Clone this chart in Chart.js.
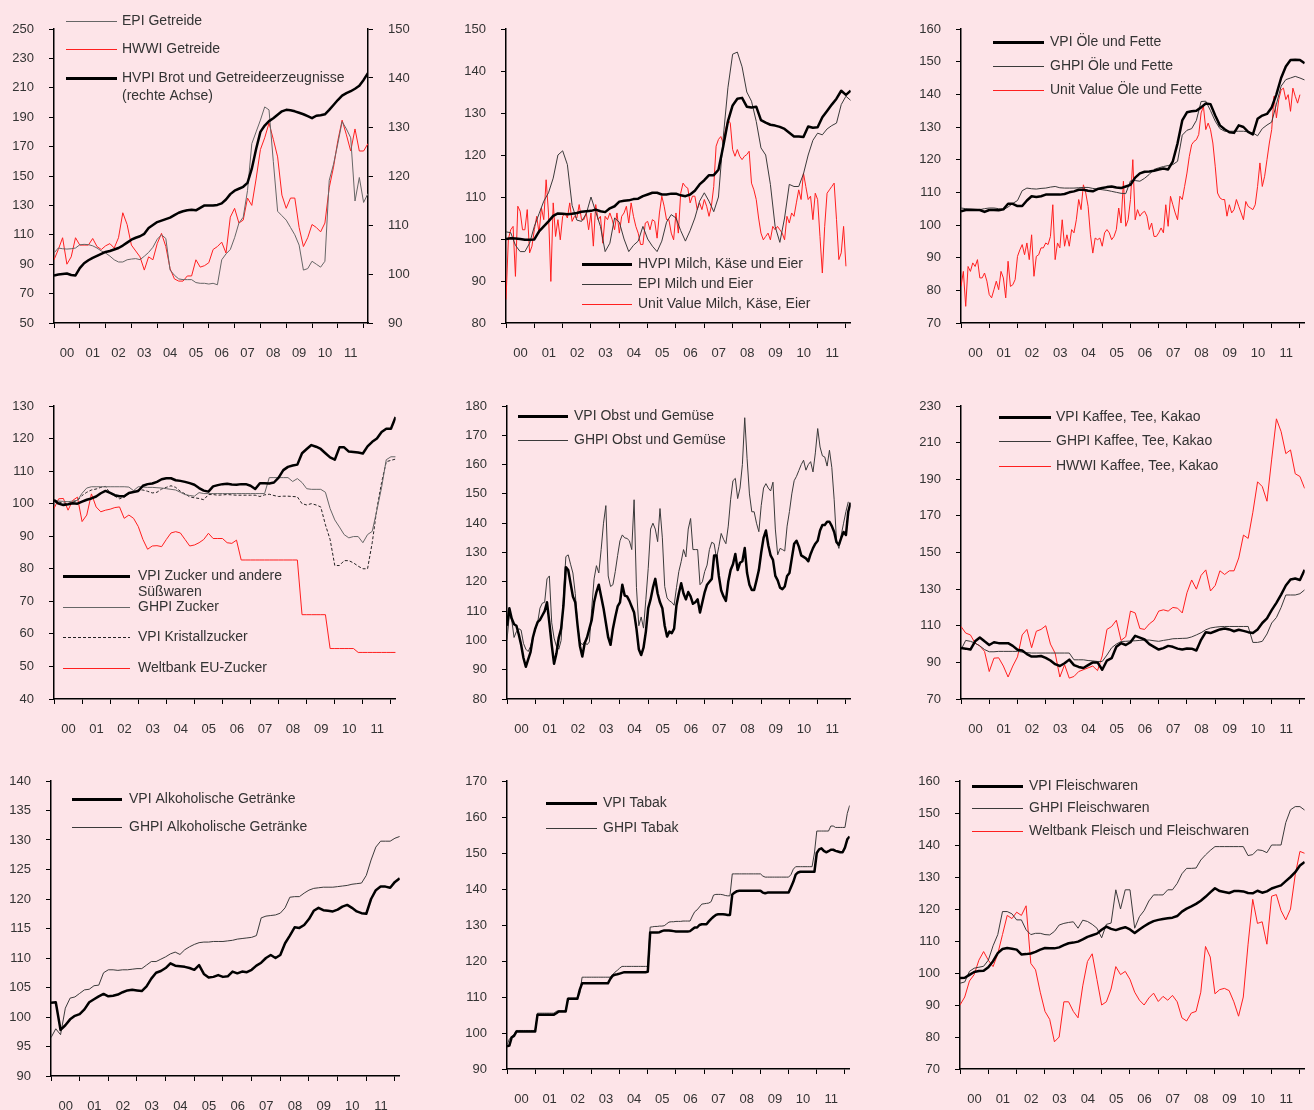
<!DOCTYPE html>
<html>
<head>
<meta charset="utf-8">
<script src="https://cdn.jsdelivr.net/npm/chart.js@4.4.1/dist/chart.umd.min.js"></script>
<style>
  html, body { margin: 0; padding: 0; background: #fde4e8; width: 1314px; height: 1110px; overflow: hidden; }
  canvas { position: absolute; }
</style>
</head>
<body>
<script>
// --- Time axis: year ticks and labels ---
const YEAR_TICKS = [0, 1, 2, 3, 4, 5, 6, 7, 8, 9, 10, 11, 12];
const YEAR_LABELS = ['00', '01', '02', '03', '04', '05', '06', '07', '08', '09', '10', '11'];
const X_MAX = 12.17;

// --- Panel 1: Getreide (bimonthly) ---
const p1LeftTicks = [50, 70, 90, 110, 130, 150, 170, 190, 210, 230, 250];
const p1RightTicks = [90, 100, 110, 120, 130, 140, 150];
const p1Epi = [97.6,101,100.5,100.3,100.5,101,103.2,103.5,103.3,102.5, 101,99,97.6,95.5,93,91.5,91.5,93,93.5,93.8, 93.1,95.4,98,101.5,107,110,107.5,86,82.5,80, 79.5,79.5,79.5,77.5,77,77,76.5,77,76,93, 97,100,108,118,122,140,172,180,188,197, 195,160,126,123,120,115,110,103,86,87, 92,90,88,92,147,158,172,187,182,176, 133,149,132,138];
const p1Hwwi = [93,100,108,90,95,108,103,103,103,107.5, 102,100,102.5,104,101,108,125,117,103,99, 95,86,95,93,104,111,102,87,80,78.5, 78.5,82,82,93,88,89,91,100,102,105, 97.6,122,128,118,120,135,130,148,168,176, 186,175,163,137,128,135,135,115,102,108, 117,115,112,118,142,156,174,188,178,167, 182,167,167,172];
const p1Hvpi = [99.7,99.9,100.0,100.1,99.8,99.7,101.2,102.2,102.8,103.3, 103.7,104.1,104.5,104.7,105.0,105.3,105.8,106.4,107.0,107.4, 107.7,108.2,109.4,110.0,110.6,110.9,111.2,111.5,112.0,112.5, 112.8,113.0,113.1,113.0,113.5,114.0,114.0,114.0,114.1,114.4, 115.2,116.3,117.0,117.4,117.8,118.6,121.5,125.5,129.0,130.3, 131.2,131.8,132.5,133.2,133.5,133.4,133.2,132.9,132.6,132.2, 131.8,132.3,132.4,132.6,133.5,134.5,135.5,136.4,136.9,137.3, 137.8,138.4,139.6,141.0];

// --- Panel 2: Milch (bimonthly, unit value monthly) ---
const p2Ticks = [80, 90, 100, 110, 120, 130, 140, 150];
const p2Hvpi = [100.0,100.2,100.1,100.0,99.8,99.8,99.9,101.8,103,104.2, 105.5,106.1,106,105.9,106,106.2,106.5,106.6,106.7,107, 106.6,106.4,107.3,107.8,108.9,109.1,109.2,109.5,109.6,110.2, 110.6,111,111,110.6,110.6,110.8,110.8,110.4,110.2,110.6, 111.5,113,114,115.2,115.2,116.5,122,128,131.8,133.4, 133.6,131.5,131.3,131.5,128.3,127.7,127.2,127,126.7,126.2, 125.3,124.4,124.4,124.3,126.8,126.5,126.6,129,130.5,132, 133.4,135.3,134.3,135.3];
const p2Epi = [101.7,101.5,98.5,97,97,99,103,106,109,111, 114.5,120,121,117.7,108,104.5,104.2,106,110,106.5, 103,97,99,105,104,100,97,98.5,99.5,103, 100,98.3,97,99.5,104,105.8,105,102,99.5,102, 105,109,111,109,106.5,110,124,136,144,144.5, 141,135,132.8,128,121.7,120,113,103,99.2,105, 113,112.5,112.5,115.5,120,123.5,125.2,124.8,126.2,127, 127.6,132,134,133];
const p2Unit = [85.6,100,102.2,103,91.1,107.8,106.6,102.2,102.2,107, 96.7,98.3,102.2,105.4,101.4,107.4,104.6,114.1,106.2,89.9, 108.6,100.6,104.6,99.8,105.4,106.2,105,108.6,104.2,105.4, 105,108.2,104.6,104.6,106.2,102.2,106.2,98.3,108.2,104.6, 105.4,99,105.4,104.6,106.2,104.6,102.2,106.2,101.4,105.4, 106.2,107.8,103.8,108.6,105.4,103,101.4,98.7,98.7,103.8, 104.2,102.2,104.6,104.2,100.2,106.2,110.2,107.8,104.6,104.6, 101.4,99.8,106.2,101.4,110.9,113.3,112.5,112.1,108.6,110.2, 110.2,107,108.6,107,109.4,107.8,105.4,107.8,112.5,122.1, 123.7,124.4,122.9,126,128.4,127.6,121.3,119.7,121.3,119.7, 118.9,119.7,120.1,120.9,113.3,111.7,109.4,105,101.4,99.8, 100.6,101.4,99.8,103,102.2,103,102.2,101.4,99.8,105.4, 103.8,106.2,105.4,108.6,111.7,109.4,115.7,112.5,109.4,110.2, 104.6,110.9,109.4,100.6,91.9,103,110.9,111.7,112.5,113.3, 104.6,95.1,96.7,103,93.5];

// --- Panel 3: Öle und Fette ---
const p3Ticks = [70, 80, 90, 100, 110, 120, 130, 140, 150, 160];
const p3Vpi = [104.2,104.6,104.7,104.6,104.6,104,104.6,104.6,104.5,104.8, 106.5,106.5,105.8,105.8,107.5,108.8,108.6,108.8,109.3,109.3, 109.3,109.3,109.5,110,110.3,110.8,110.8,110.5,110.3,111, 111.3,111.6,111.8,111.5,111.3,111.8,112.3,114.5,115.8,116.3, 116.4,116.6,117,117.3,117,119.5,125,132,134.5,134.8, 135,136,137.2,137,133.5,130.5,129.3,128.4,128.2,130.5, 130,128.5,127.7,132.5,133.5,134,136,140,145,148.5, 150.5,150.6,150.5,149.5];
const p3Ghpi = [105.2,105,104.8,104.8,104.7,105,105.2,105.2,105,104.7, 105.5,106.6,107.5,110.5,111.3,111.1,111,111.2,111.3,111.6, 111.8,111.4,111.3,111.3,111.3,111.4,111.5,111.5,111.2,111, 110.8,110.6,110.3,110,109.7,109.6,113.5,113.6,113.4,114.3, 115.5,117,117.5,117.9,118.2,118.5,119.5,127.5,129,129.5, 132,137.8,137.9,135,131.8,129.5,128.7,128.7,128.7,128.7, 128.7,128.5,128.2,127.3,129.5,130.6,131.5,137,142.5,144.5, 145,145.5,145,144.4];
const p3Unit = [81.2,85.8,75.1,87.3,85.8,88.4,87.3,89.4,83.8,83.8, 85.3,82.8,78.7,77.7,80.2,82.8,80.2,85.8,83.8,77.7, 88.9,81.2,81.7,83.3,90.4,92.4,94,90.9,94.5,89.4, 97,84.3,90.4,90.9,93,93,94.5,94,96.5,106.2, 89.4,94.5,93,101.6,93.5,97,93.5,98.6,97.6,101.6, 107.8,104.7,112.3,109.8,105.7,97,91.4,96,95.5,96, 93.5,97.6,98.6,97.6,95.5,96.5,98.6,105.2,100.6,113.4, 99.6,101.6,107.8,120,101.6,104.7,102.7,103.7,104.2,102.7, 98.6,100.6,96.5,96.5,97.6,99.1,97.6,106.2,99.6,108.8, 106.2,103.7,101.6,108.8,107.8,111.8,115.9,121,124.6,125.6, 126.1,127.7,134.3,136.3,129.2,131.2,129.2,125.1,118,109.8, 108.3,107.8,107.8,102.7,106.2,103.7,104.7,107.8,105.7,103.7, 101.6,107.2,105.7,105.2,104.7,106.2,111.8,119,111.8,114.9, 120,125.1,129.2,139.4,132.8,138.4,141.4,141.9,138.4,139.9, 134.8,141.9,139.4,137.3,139.9];

// --- Panel 4: Zucker ---
const p4Ticks = [40, 50, 60, 70, 80, 90, 100, 110, 120, 130];
const p4Vpi = [101.1,100,99.6,99.8,100.1,100,100.6,101.2,101.6,102.2, 103.2,103.9,103.3,102.6,102.3,102.3,103.3,103.6,103.9,105.5, 106,106.2,106.7,107.5,107.8,107.8,107.2,107,106.7,106.3, 105.8,104.8,104,103.7,105.3,105.7,106,106.1,105.9,105.8, 106,106,105.5,104.5,106.3,106.3,106.2,106.5,108,110.3, 111.3,111.7,112,115.5,116.8,118,117.5,116.8,115.5,114.2, 113.5,117.3,117.3,116,115.9,115.7,115.4,117.6,119,120, 122,123,123,126.6];
const p4Ghpi = [101.1,100.8,100.7,100.6,100.8,101,103.2,104.8,105.2,105.2, 105.2,105.2,105.2,105.2,105.2,105.2,105.1,104,105.2,105.1, 105,105,104.9,104.8,104.6,104.4,104.2,103.5,102.8,102.5, 102.3,103.4,103.1,103.1,103.1,103.1,103.1,103.1,103.1,103.1, 103.1,103.1,103.1,103.1,103.1,103.1,108,108,108,108, 108,106.8,107.7,106.5,104.6,104.4,104.4,104.4,103.5,98.5, 95,92.8,90.5,89.5,89.9,89.9,88,90.5,91.5,98, 105,113.5,114.4,114.4];
const p4Kristall = [101.1,100.5,100.2,100,100.5,101,102.5,103.5,104.2,104.5, 105,105.3,103.2,102.3,101.5,102,103,103.8,104.2,104.2, 103.8,103.3,103.5,104.5,105,105.5,105,103.8,103,102.1, 101.8,101.6,101.2,102.8,102.8,102.6,102.7,102.8,102.7,102.6, 102.6,102.6,102.6,102.6,102.2,102.7,102.9,102.5,102.2,102.3, 102.3,102.2,102.1,100,99.6,100,99.6,99,93.5,89, 81,81,82.5,82.5,81.8,80.8,80,80,88,98.5, 106.5,112.9,113.3,113.7];
const p4Weltbank = [98.5,101.5,101.6,98,101,102,94.5,96.5,103,99, 97.5,98,98.3,98.8,99,95.5,96.5,95.5,93,89, 86,87,87.1,86.8,89,91,91.4,91,89,87, 87.3,88,89,90.9,89.3,89.3,89.3,88,87.8,88.8, 82.7,82.7,82.7,82.7,82.7,82.7,82.7,82.7,82.7,82.7, 82.7,82.7,82.7,65.9,65.9,65.9,65.9,65.9,65.9,55.5, 55.5,55.5,55.5,55.5,55.5,54.3,54.3,54.3,54.3,54.3, 54.3,54.3,54.3,54.3];

// --- Panel 5: Obst und Gemüse (monthly) ---
const p5Ticks = [80, 90, 100, 110, 120, 130, 140, 150, 160, 170, 180];
const p5Vpi = [105,111,107.5,105.5,105,102,98.5,94,91,93.5, 96,101,104,106.2,107,108.5,110,113,106,98.5, 92,95.5,101,104,112,125,124,119.5,115,113, 105,98,94.5,99,101,104,107,113,116.5,119, 115,111,106,101,98.5,104,108,111.6,113,119, 115.3,115,113.5,111.5,109.5,104,97,95,97.5,103, 111,114,118,121,116,113,111,105,101.3,103, 102.5,104,112,116,119.5,116,114,116.5,115,112.5, 113,114,109.5,113,116.5,119,120,121,129,129, 122,117,115,113.5,120,124,126,129.5,124,126.5, 127,131.5,123,119,117.2,117.2,120.5,124,130,135, 137.5,132.5,129,127.5,122,120.5,118,117.5,118.4,122, 123,128,133,134,132,129,128.5,128,127,129.5, 131.5,133,134,137.5,139.4,139.4,140.5,140.5,139,137, 133.5,132.6,135,137,136,144,147];
const p5Ghpi = [100.2,108.7,107,101,103,104,103.5,99,97,96.2, 98,101,103.5,106,111,112.7,113,121,122,106, 100.8,98,97,100,115,128.6,129.2,126,123,116, 105,99.5,98.5,99.6,98.5,99.5,111,121,125.5,123, 131,140,146,122,118.4,119,123.5,129,134,136, 135,134.8,134,131,148,118,105,108,104.2,114, 124.6,138,140,138,133.7,145,135,118.4,114.5,113.5, 113,112,118,123.5,126.9,131,128.5,138,141.6,131, 131,131,119,120,123.5,125.7,131,133.5,133,128, 132,136.5,134.5,133,139,148,154.5,155.3,148.4,152, 160,176,162,150,143.9,143.9,140,137.1,146,152, 153.5,152,151,154,138,129.2,131.4,131,130.5,139, 144,150,154.5,156,158,160,161.5,158.1,160,161, 157.5,164,172.3,166,163,162.6,159.5,164.9,159,148, 134,131.4,136,140,144,147.3];

// --- Panel 6: Kaffee, Tee, Kakao ---
const p6Ticks = [70, 90, 110, 130, 150, 170, 190, 210, 230];
const p6Vpi = [97.8,97.5,97,101.5,103.6,101.5,99.5,101,100.5,100.5, 100.5,99,96.9,96.5,94.5,93.2,93.2,93.5,92.5,91, 89,88,89.5,91.5,88.5,87.5,86.9,88.5,90,90, 86,91,92.3,98.5,100.5,99.5,101,104.5,103.5,102.5, 100,98.5,97,97.8,99,98.5,97.5,97,97.6,97.5, 96.5,102.3,106.5,106,107,108,108.5,108,107,107.8, 107.2,106.5,106,108,111.5,114,118.5,122.5,127,132, 135.3,135.8,135,140.5];
const p6Ghpi = [96.9,102,101.5,100.5,99,97,95.8,95.8,96,96, 96,96,96,95.6,95.3,95.1,95.1,95.1,95.1,95.1, 95.1,95.1,95.1,95.1,91.4,91.4,91.4,91,90.8,90.5, 90.5,94,98,100,101.4,101.5,101.7,101.8,102,102.2, 102.2,101.8,101.5,102,102.4,102.9,103,103.1,103.2,103.9, 105,106.2,107.8,108.8,109.2,109.5,109.6,109.6,109.6,109.6, 109.6,109.6,100.9,100.9,101.5,105.5,111.5,114.5,120,126.8, 126.8,126.8,127.5,129.6];
const p6Hwwi = [109.6,106,105,100.5,99,96,85,92.3,92.5,88, 82,88,93,105,108,98,107,108,110,100, 95,82,88.7,81.4,82.3,85,86,87,88,85.5, 93.5,108,109.6,113,102,104,118,117,108.5,108, 111,113,118,118.7,118,120,119.6,117,128,135, 130,137.5,140.5,129,132,140,138,140,140,147, 159.5,157.7,172,188.6,186,178,201,223,216,204, 206,193,191.5,185];

// --- Panel 7: Alkoholische Getränke ---
const p7Ticks = [90, 95, 100, 105, 110, 115, 120, 125, 130, 135, 140];
const p7Vpi = [102.4,102.5,97.8,98.6,99.6,100.2,100.5,101.3,102.5,103, 103.5,103.9,103.5,103.6,103.8,104.2,104.5,104.6,104.5,104.4, 105.2,106.5,107.5,107.8,108.3,109.1,108.7,108.6,108.5,108.3, 108,108.8,107.3,106.7,106.8,107.1,106.8,106.9,107.7,107.4, 107.7,107.6,108,108.7,109.2,110,110.5,110,110.5,112.5, 113.8,115.2,115.1,115.6,116.6,118,118.5,118.1,118,117.9, 118.2,118.7,119,118.5,117.9,117.6,117.5,120,121.5,122.1, 122.1,121.9,122.9,123.5];
const p7Ghpi = [96.5,98,97,101.5,103.2,103.4,104,104.6,104.7,105.3, 105.4,107.5,108,108,107.9,108,108,108.1,108.2,108.2, 108.8,109.4,109.4,109.8,110.2,110.7,111,110.6,111.4,111.9, 112.3,112.6,112.7,112.7,112.8,112.8,112.8,112.9,113,113.2, 113.3,113.4,113.5,113.8,116.8,117.1,117.2,117.3,117.6,118.5, 120.3,120.4,120.4,121,121.5,121.8,121.9,122,122,122, 122.1,122.2,122.3,122.5,122.6,122.7,124,126.6,128.8,129.8, 129.8,129.8,130.3,130.6];

// --- Panel 8: Tabak (monthly) ---
const p8Ticks = [90, 100, 110, 120, 130, 140, 150, 160, 170];
const p8Vpi = [96.3,96.5,98.8,99.2,100.4,100.4,100.4,100.4,100.4,100.4, 100.4,100.4,100.4,105.1,105.1,105.1,105.1,105.1,105.1,105.1, 105.1,105.5,106,106,106,106,109.5,109.5,109.5,109.5, 109.5,112,113.8,113.8,113.8,113.8,113.8,113.8,113.8,113.8, 113.8,113.8,113.8,113.8,115,115.9,116.2,116.3,116.5,116.7, 116.9,116.9,116.9,116.9,116.9,116.9,116.9,116.9,116.9,116.9, 117,127.9,127.9,127.9,127.9,128,128.3,128.5,128.5,128.5, 128.4,128.3,128.2,128.2,128.2,128.2,128.2,128.2,128.3,128.8, 129.3,129.3,130,130.2,130.2,130.2,131,131.7,132.3,132.8, 133,133,133,132.9,132.8,132.8,138.5,139,139.4,139.5, 139.5,139.5,139.5,139.5,139.5,139.5,139.5,139.5,139.5,139, 138.8,139,139,139,139,139,139,139,139,139, 139,140.5,142,144,144.6,144.8,144.8,144.8,144.8,144.8, 144.8,144.8,150,151,151.3,150.6,150.2,150.5,150.9,150.9, 150.6,150.4,150.2,150.2,151.5,153.8,154.6];
const p8Ghpi = [96.7,98.3,99,99.6,100.7,100.7,100.7,100.7,100.7,100.7, 100.7,100.7,100.7,105.5,105.5,105.5,105.5,105.5,105.5,105.5, 105.5,106,106.2,106.2,106.2,106.2,109.7,109.7,109.7,109.7, 109.7,111,115.5,115.5,115.5,115.5,115.5,115.5,115.5,115.5, 115.5,115.5,115.5,115.5,115.5,116.2,116.9,117.4,118,118.5, 118.5,118.5,118.5,118.5,118.5,118.5,118.5,118.5,118.5,118.5, 118.5,129.4,129.5,129.6,129.6,129.7,129.7,129.8,130.3,130.8, 130.9,130.9,131,131,131,131.1,131.1,131.1,131.1,132.5, 133.7,134.2,135,135.8,135.9,136,136.1,136.5,138.3,138.5, 138.5,138.5,138.4,138.2,138.1,138.1,144.2,144.2,144.2,144.2, 144.2,144.2,144.2,144.2,144.2,144.2,144.2,144.2,144.2,143.6, 143.3,143.3,143.3,143.3,143.3,143.3,143.3,143.3,143.3,143.3, 143.3,144,145.5,146.2,146.2,146.2,146.2,146.2,146.2,146.2, 146.2,150,156.1,156.1,156.1,156.1,156.1,156.1,157.5,157.5, 157.1,157.1,157.1,157.1,157.1,161,163.2];

// --- Panel 9: Fleischwaren ---
const p9Ticks = [70, 80, 90, 100, 110, 120, 130, 140, 150, 160];
const p9Vpi = [98.4,98.5,99.4,100.3,100.6,100.7,101.8,103.7,106.2,107.5, 107.8,107.6,107.3,105.8,105.9,106.1,106.6,107.3,107.8,107.7, 107.7,108,108.7,109.3,109.5,109.8,110.5,111.3,111.8,112.3, 113.5,114.5,113.8,113.4,113.9,114.3,113.6,112.5,113.6,114.6, 115.5,116.2,116.6,116.9,117.1,117.3,117.8,119.2,120.1,120.8, 121.6,122.6,123.8,125.2,126.5,125.6,125.3,125,125.6,125.6, 125.5,125,124.9,125.7,125.1,125.5,126.4,126.9,127.4,128.7, 130,131.5,133.6,134.7];
const p9Ghpi = [96.8,97.2,100.5,101.5,101.8,102.1,104,108.5,112,119.2, 119.2,118.5,116.6,116.6,113.5,112,112.4,112.4,112,111.9, 113,115,115.5,115.8,116,114,116.5,116.1,115.2,114, 111,115.2,115.6,126,120,126,126,114,117.6,119.5, 122.5,124.4,124.4,124.4,126,126,128,131,132.7,132.7, 132.8,135.3,136.9,138.3,139.5,139.5,139.5,139.5,139.5,139.5, 139.5,136.7,137,138.5,138.3,137.6,140,140,140,147, 151,152,152,150.9];
const p9World = [90,92.5,97.5,99.5,104,106.7,104,102,106,112, 118,117,119,118,121,103,101,94,88,85.5, 78.5,80,91,91,88,86,96,103.6,106,98, 90,91,95,102,99.5,100.5,98,94,91.5,90, 92.2,93.7,91.1,92.7,91.5,93,91,86,85,87.5, 88,94,108.3,105,93.5,94.8,95.2,94.5,91,86.5, 92.5,108.8,123,115.5,116,109,124,124.5,119.5,116.6, 120,130.7,138,137.4];

// --- Styles ---
const TEXT = '#333';
const thick = { borderColor: '#000', borderWidth: 2.5, order: 0 };
const thin = { borderColor: '#3a3a3a', borderWidth: 1, order: 1 };
const grey = { borderColor: '#666', borderWidth: 1, order: 1 };
const red = { borderColor: '#ff1f1f', borderWidth: 1, order: 2 };
const dashed = { borderColor: '#222', borderWidth: 1, borderDash: [3, 2], order: 1 };

Chart.defaults.font.family = '"Liberation Sans", Arial, sans-serif';
Chart.defaults.font.size = 13;
Chart.defaults.color = TEXT;

function toPoints(values, perYear) {
    return values.map((v, i) => ({ x: i / perYear, y: v }));
}

function line(label, values, perYear, style, axis) {
    return Object.assign({
        label: label,
        data: toPoints(values, perYear),
        pointRadius: 0,
        tension: 0,
        fill: false,
        borderJoinStyle: 'round',
        yAxisID: axis || 'y',
    }, style);
}

// legend drawn as long line samples next to text, like the original
const lineLegend = {
    id: 'lineLegend',
    afterDatasetsDraw(chart, args, opts) {
        if (!opts.rows) return;
        const ctx = chart.ctx;
        ctx.save();
        ctx.font = '14px "Liberation Sans", Arial, sans-serif';
        ctx.textBaseline = 'middle';
        chart.data.datasets.forEach((ds, i) => {
            const y = Math.round(opts.rows[i] - opts.oy) + 0.5;
            ctx.strokeStyle = ds.borderColor;
            ctx.lineWidth = ds.borderWidth > 2 ? 3 : 1;
            ctx.setLineDash(ds.borderDash || []);
            ctx.beginPath();
            ctx.moveTo(opts.x1 - opts.ox, y);
            ctx.lineTo(opts.x2 - opts.ox, y);
            ctx.stroke();
            ctx.setLineDash([]);
            ctx.fillStyle = TEXT;
            ds.label.split('\n').forEach((t, j) => ctx.fillText(t, opts.tx - opts.ox, y + j * opts.gap));
        });
        ctx.restore();
    }
};

const panels = [
    {
        area: [54, 29, 368, 323], yTicks: p1LeftTicks, y1Ticks: p1RightTicks,
        datasets: [
            line('EPI Getreide', p1Epi, 6, grey),
            line('HWWI Getreide', p1Hwwi, 6, red),
            line('HVPI Brot und Getreideerzeugnisse\n(rechte Achse)', p1Hvpi, 6, thick, 'y1'),
        ],
        legend: { x1: 66, x2: 117, tx: 122, rows: [20.5, 49.3, 78.3], gap: 17.5 }
    },
    {
        area: [506, 29, 860, 323], yTicks: p2Ticks,
        datasets: [
            line('HVPI Milch, Käse und Eier', p2Hvpi, 6, thick),
            line('EPI Milch und Eier', p2Epi, 6, thin),
            line('Unit Value Milch, Käse, Eier', p2Unit, 12, red),
        ],
        legend: { x1: 582, x2: 632, tx: 638, rows: [264.3, 284.3, 304], gap: 17 }
    },
    {
        area: [961, 29, 1314, 323], yTicks: p3Ticks,
        datasets: [
            line('VPI Öle und Fette', p3Vpi, 6, thick),
            line('GHPI Öle und Fette', p3Ghpi, 6, thin),
            line('Unit Value Öle und Fette', p3Unit, 12, red),
        ],
        legend: { x1: 993, x2: 1044, tx: 1050, rows: [42.3, 66.3, 90], gap: 17 }
    },
    {
        area: [54, 406, 405, 699], yTicks: p4Ticks,
        datasets: [
            line('VPI Zucker und andere\nSüßwaren', p4Vpi, 6, thick),
            line('GHPI Zucker', p4Ghpi, 6, grey),
            line('VPI Kristallzucker', p4Kristall, 6, dashed),
            line('Weltbank EU-Zucker', p4Weltbank, 6, red),
        ],
        legend: { x1: 63, x2: 130, tx: 138, rows: [576.3, 606.8, 637.3, 668.3], gap: 16 }
    },
    {
        area: [507, 406, 860, 699], yTicks: p5Ticks,
        datasets: [
            line('VPI Obst und Gemüse', p5Vpi, 12, thick),
            line('GHPI Obst und Gemüse', p5Ghpi, 12, thin),
        ],
        legend: { x1: 518, x2: 568, tx: 574, rows: [415.7, 440], gap: 17 }
    },
    {
        area: [961, 406, 1314, 699], yTicks: p6Ticks,
        datasets: [
            line('VPI Kaffee, Tee, Kakao', p6Vpi, 6, thick),
            line('GHPI Kaffee, Tee, Kakao', p6Ghpi, 6, thin),
            line('HWWI Kaffee, Tee, Kakao', p6Hwwi, 6, red),
        ],
        legend: { x1: 999, x2: 1051, tx: 1056, rows: [416.7, 440.7, 465.7], gap: 17 }
    },
    {
        area: [51, 781, 409, 1076], yTicks: p7Ticks,
        datasets: [
            line('VPI Alkoholische Getränke', p7Vpi, 6, thick),
            line('GHPI Alkoholische Getränke', p7Ghpi, 6, thin),
        ],
        legend: { x1: 72, x2: 122, tx: 129, rows: [799.3, 826.7], gap: 17 }
    },
    {
        area: [507, 781, 859, 1069], yTicks: p8Ticks,
        datasets: [
            line('VPI Tabak', p8Vpi, 12, thick),
            line('GHPI Tabak', p8Ghpi, 12, thin),
        ],
        legend: { x1: 546, x2: 597, tx: 603, rows: [803.3, 828.3], gap: 17 }
    },
    {
        area: [960, 781, 1314, 1069], yTicks: p9Ticks,
        datasets: [
            line('VPI Fleischwaren', p9Vpi, 6, thick),
            line('GHPI Fleischwaren', p9Ghpi, 6, thin),
            line('Weltbank Fleisch und Fleischwaren', p9World, 6, red),
        ],
        legend: { x1: 972, x2: 1023, tx: 1029, rows: [785.7, 807.7, 830.7], gap: 17 }
    },
];

const AXIS_W = 50, TOP_PAD = 30, X_AXIS_H = 45;

function tickedAxis(ticks, position) {
    return {
        type: 'linear',
        position: position,
        min: ticks[0],
        max: ticks[ticks.length - 1],
        afterBuildTicks: ax => { ax.ticks = ticks.map(v => ({ value: v })); },
        ticks: { padding: 15, autoSkip: false },
        grid: { drawOnChartArea: false, drawTicks: true, tickLength: 5, color: '#000', lineWidth: 1 },
        border: { color: '#000', width: 1.5 },
        afterFit: s => { s.width = AXIS_W; },
    };
}

panels.forEach(p => {
    const [l, t, r, b] = p.area;
    const rightExtra = p.y1Ticks ? AXIS_W : 4;
    const left = l - AXIS_W, top = t - TOP_PAD;
    const canvas = document.createElement('canvas');
    canvas.width = (r - l) + AXIS_W + rightExtra;
    canvas.height = (b - t) + TOP_PAD + X_AXIS_H;
    canvas.style.left = left + 'px';
    canvas.style.top = top + 'px';
    document.body.appendChild(canvas);

    const half = (r - l) / X_MAX / 2;
    const scales = {
        x: {
            type: 'linear', min: 0, max: X_MAX,
            afterBuildTicks: ax => { ax.ticks = YEAR_TICKS.map(v => ({ value: v })); },
            ticks: {
                autoSkip: false, maxRotation: 0, labelOffset: half, padding: 18,
                callback: (v, i) => YEAR_LABELS[i] || ''
            },
            grid: { drawOnChartArea: false, drawTicks: true, tickLength: 5, color: '#000', lineWidth: 1 },
            border: { color: '#000', width: 1.5 },
            afterFit: s => { s.height = X_AXIS_H; },
        },
        y: tickedAxis(p.yTicks, 'left'),
    };
    if (p.y1Ticks) scales.y1 = tickedAxis(p.y1Ticks, 'right');

    new Chart(canvas.getContext('2d'), {
        type: 'line',
        data: { datasets: p.datasets },
        options: {
            responsive: false,
            animation: false,
            layout: { padding: { top: TOP_PAD, right: p.y1Ticks ? 0 : 4, left: 0, bottom: 0 } },
            plugins: {
                legend: { display: false },
                tooltip: { enabled: false },
                lineLegend: Object.assign({ ox: left, oy: top }, p.legend),
            },
            scales: scales,
        },
        plugins: [lineLegend],
    });
});
</script>
</body>
</html>
